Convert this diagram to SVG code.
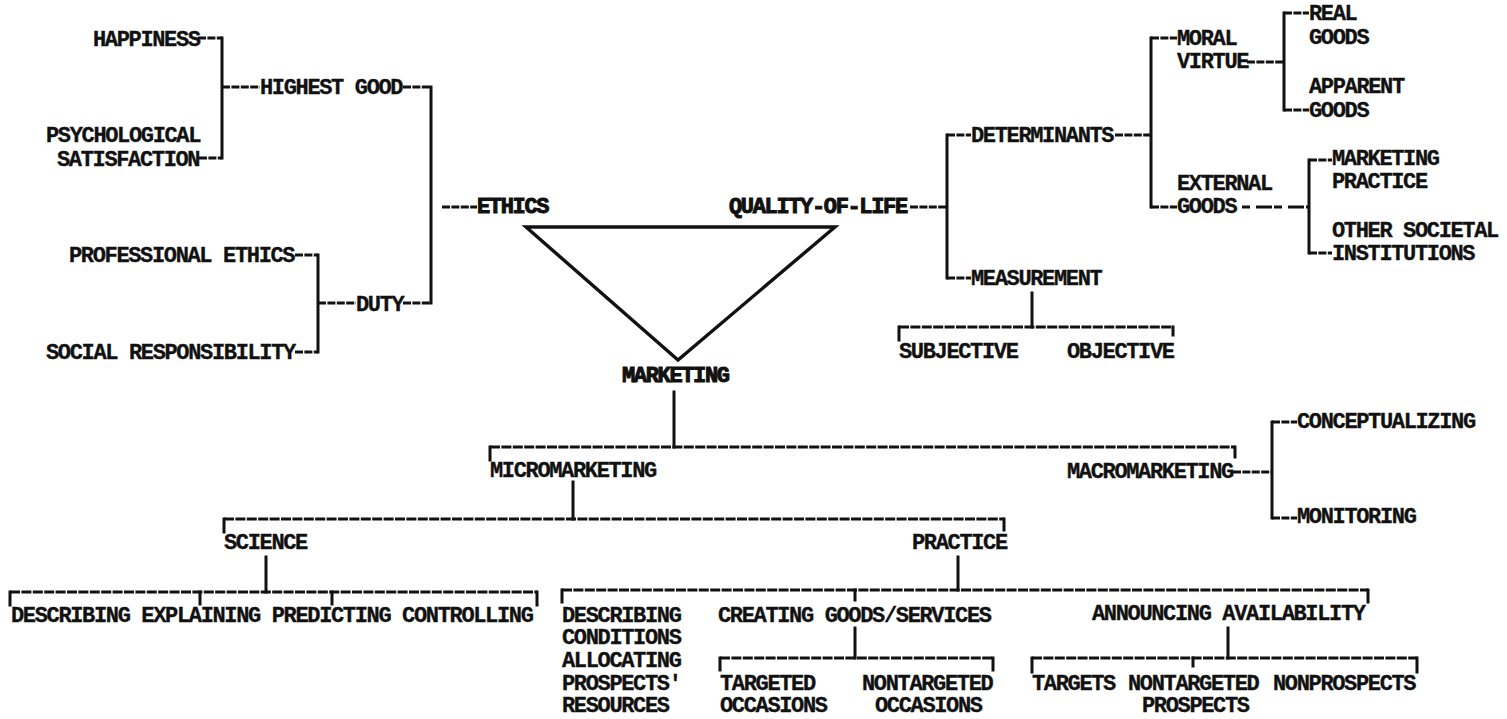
<svg xmlns="http://www.w3.org/2000/svg" width="1507" height="719" viewBox="0 0 1507 719">
<style>
text{font-family:"Liberation Mono","DejaVu Sans Mono",monospace;font-weight:bold;font-size:22px;letter-spacing:-1.35px;fill:#111;stroke:#111;stroke-width:0.35px}
.heavy{stroke-width:1px}
.v{stroke:#111;stroke-width:3;fill:none;stroke-linecap:square}
.d{stroke:#111;stroke-width:3;fill:none;stroke-dasharray:10 1.4}
.h{stroke:#111;stroke-width:3;fill:none;stroke-dasharray:8 1.4}
.tri{stroke:#111;stroke-width:3.4;fill:none;stroke-linejoin:miter}
</style>
<rect width="1507" height="719" fill="#fff"/>
<g id="connectors">
<!-- ethics tree -->
<path class="h" d="M198 38H222M199 158H222M222 87H260M403 87H431M403 303H431M318 303H356M295 255H318M295 352H318M442 207H477"/>
<path class="v" d="M222 38V158M431 87V303M318 255V352"/>
<!-- triangle -->
<path class="tri" d="M526 227H835L678 360Z"/>
<!-- quality of life -->
<path class="h" d="M910 207H947M947 135H971M947 278H971M1115 135H1151M1151 38H1177M1151 207H1177M1247 62H1284M1284 13H1309M1284 110H1309M1309 160H1332M1309 253H1332"/>
<path class="d" d="M1242 207H1309" style="stroke-dasharray:8 6 16 2"/>
<path class="v" d="M947 135V278M1151 38V207M1284 13V110M1309 160V253"/>
<!-- measurement -->
<path class="v" d="M1032 293V327M899 327V340M1173 327V335"/>
<path class="d" d="M899 327H1173"/>
<!-- marketing -->
<path class="v" d="M674 392V447M490 447V460M1235 447V457"/>
<path class="d" d="M490 447H1235"/>
<!-- macromarketing -->
<path class="h" d="M1233 472H1272M1272 422H1297M1272 518H1297"/>
<path class="v" d="M1272 422V518"/>
<!-- micromarketing -->
<path class="v" d="M573 482V519M224 519V532M1004 519V530"/>
<path class="d" d="M224 519H1004"/>
<!-- science -->
<path class="v" d="M266 557V592M10 592V605M537 592V605M200 592V604M332 592V604"/>
<path class="d" d="M10 592H537"/>
<!-- practice -->
<path class="v" d="M958 557V590M562 590V602M1368 590V602M855 590V600"/>
<path class="d" d="M562 590H1368"/>
<!-- creating -->
<path class="v" d="M855 628V658M720 658V670M993 658V670"/>
<path class="d" d="M720 658H993"/>
<!-- announcing -->
<path class="v" d="M1228 628V658M1032 658V672M1417 658V672M1193 658V666"/>
<path class="d" d="M1032 658H1417"/>
</g>
<g id="happiness"><text x="93" y="46">HAPPINESS</text></g>
<g id="highest-good"><text x="260" y="94">HIGHEST GOOD</text></g>
<g id="psychological-satisfaction"><text x="46" y="142">PSYCHOLOGICAL</text><text x="57" y="166">SATISFACTION</text></g>
<g id="professional-ethics"><text x="69" y="262">PROFESSIONAL ETHICS</text></g>
<g id="duty"><text x="356" y="311">DUTY</text></g>
<g id="social-responsibility"><text x="46" y="359">SOCIAL RESPONSIBILITY</text></g>
<g id="ethics"><text class="heavy" x="477" y="213">ETHICS</text></g>
<g id="quality-of-life"><text class="heavy" x="729" y="213">QUALITY-OF-LIFE</text></g>
<g id="determinants"><text x="971" y="142">DETERMINANTS</text></g>
<g id="moral-virtue"><text x="1177" y="45">MORAL</text><text x="1177" y="68">VIRTUE</text></g>
<g id="real-goods"><text x="1309" y="20">REAL</text><text x="1309" y="44">GOODS</text></g>
<g id="apparent-goods"><text x="1309" y="93">APPARENT</text><text x="1309" y="117">GOODS</text></g>
<g id="external-goods"><text x="1177" y="190">EXTERNAL</text><text x="1177" y="213">GOODS</text></g>
<g id="marketing-practice"><text x="1332" y="165">MARKETING</text><text x="1332" y="188">PRACTICE</text></g>
<g id="other-societal-institutions"><text x="1332" y="237">OTHER SOCIETAL</text><text x="1332" y="260">INSTITUTIONS</text></g>
<g id="measurement"><text x="971" y="285">MEASUREMENT</text></g>
<g id="subjective"><text x="899" y="358">SUBJECTIVE</text></g>
<g id="objective"><text x="1067" y="358">OBJECTIVE</text></g>
<g id="marketing"><text class="heavy" x="622" y="382">MARKETING</text></g>
<g id="micromarketing"><text x="490" y="477">MICROMARKETING</text></g>
<g id="macromarketing"><text x="1067" y="478">MACROMARKETING</text></g>
<g id="conceptualizing"><text x="1297" y="428">CONCEPTUALIZING</text></g>
<g id="monitoring"><text x="1297" y="523">MONITORING</text></g>
<g id="science"><text x="224" y="549">SCIENCE</text></g>
<g id="practice"><text x="912" y="549">PRACTICE</text></g>
<g id="science-activities"><text x="11" y="622">DESCRIBING EXPLAINING PREDICTING CONTROLLING</text></g>
<g id="describing-conditions"><text x="562" y="622">DESCRIBING</text><text x="562" y="644">CONDITIONS</text><text x="562" y="667">ALLOCATING</text><text x="562" y="690">PROSPECTS'</text><text x="562" y="712">RESOURCES</text></g>
<g id="creating-goods-services"><text x="718" y="622">CREATING GOODS/SERVICES</text></g>
<g id="targeted-occasions"><text x="720" y="690">TARGETED</text><text x="720" y="712">OCCASIONS</text></g>
<g id="nontargeted-occasions"><text x="862" y="690">NONTARGETED</text><text x="875" y="712">OCCASIONS</text></g>
<g id="announcing-availability"><text x="1092" y="620">ANNOUNCING AVAILABILITY</text></g>
<g id="targets"><text x="1032" y="690">TARGETS</text></g>
<g id="nontargeted-prospects"><text x="1128" y="690">NONTARGETED</text><text x="1142" y="712">PROSPECTS</text></g>
<g id="nonprospects"><text x="1273" y="690">NONPROSPECTS</text></g>
</svg>
